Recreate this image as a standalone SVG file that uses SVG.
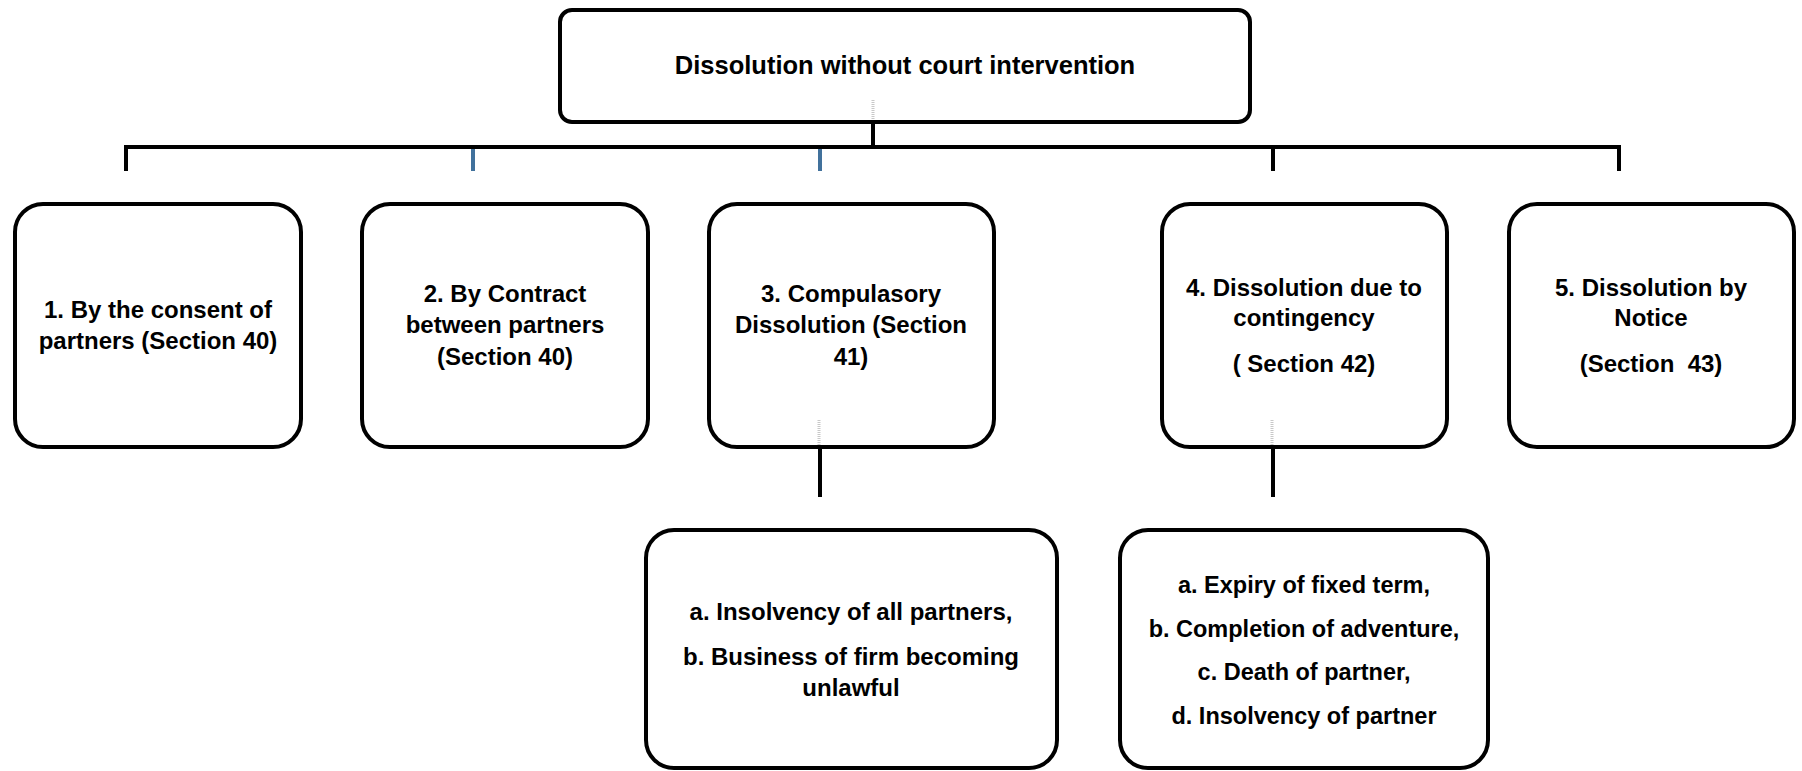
<svg xmlns="http://www.w3.org/2000/svg" width="1802" height="771" viewBox="0 0 1802 771">
<style>
.box{fill:#fff;stroke:#000;stroke-width:4}
.t{font-family:"Liberation Sans",Arial,sans-serif;font-weight:bold;font-size:24px;fill:#000;text-anchor:middle;white-space:pre}
.title{font-size:25.5px}
.sm{font-size:23.5px}
.ln{stroke:#000;stroke-width:4;fill:none}
.blue{stroke:#41719c;stroke-width:4;fill:none}
.dot{stroke:#c8c8c8;stroke-width:3;stroke-dasharray:1 1;fill:none}
</style>
<rect width="1802" height="771" fill="#fff"/>
<g id="connectors">
<line class="ln" x1="873" y1="122" x2="873" y2="147"/>
<line class="ln" x1="124" y1="147" x2="1621" y2="147"/>
<line class="ln" x1="126" y1="147" x2="126" y2="171"/>
<line class="blue" x1="473" y1="149" x2="473" y2="171"/>
<line class="blue" x1="820" y1="149" x2="820" y2="171"/>
<line class="ln" x1="1273" y1="147" x2="1273" y2="171"/>
<line class="ln" x1="1619" y1="147" x2="1619" y2="171"/>
<line class="ln" x1="820" y1="447" x2="820" y2="497"/>
<line class="ln" x1="1273" y1="447" x2="1273" y2="497"/>
</g>
<g id="top">
<rect class="box" x="560" y="10" width="690" height="112" rx="12"/>
<text class="t title" x="905" y="74">Dissolution without court intervention</text>
<line class="dot" x1="873" y1="100" x2="873" y2="120"/>
</g>
<g id="n1">
<rect class="box" x="15" y="204" width="286" height="243" rx="28"/>
<text class="t" x="158" y="318">1. By the consent of</text>
<text class="t" x="158" y="349">partners (Section 40)</text>
</g>
<g id="n2">
<rect class="box" x="362" y="204" width="286" height="243" rx="28"/>
<text class="t" x="505" y="302">2. By Contract</text>
<text class="t" x="505" y="333">between partners</text>
<text class="t" x="505" y="365">(Section 40)</text>
</g>
<g id="n3">
<rect class="box" x="709" y="204" width="285" height="243" rx="28"/>
<text class="t" x="851" y="302">3. Compulasory</text>
<text class="t" x="851" y="333">Dissolution (Section</text>
<text class="t" x="851" y="365">41)</text>
<line class="dot" x1="819" y1="420" x2="819" y2="445"/>
</g>
<g id="n4">
<rect class="box" x="1162" y="204" width="285" height="243" rx="28"/>
<text class="t" x="1304" y="296">4. Dissolution due to</text>
<text class="t" x="1304" y="326">contingency</text>
<text class="t" x="1304" y="372">( Section 42)</text>
<line class="dot" x1="1272" y1="420" x2="1272" y2="445"/>
</g>
<g id="n5">
<rect class="box" x="1509" y="204" width="285" height="243" rx="28"/>
<text class="t" x="1651" y="296">5. Dissolution by</text>
<text class="t" x="1651" y="326">Notice</text>
<text class="t" x="1651" y="372">(Section  43)</text>
</g>
<g id="n3a">
<rect class="box" x="646" y="530" width="411" height="238" rx="28"/>
<text class="t" x="851" y="620">a. Insolvency of all partners,</text>
<text class="t" x="851" y="665">b. Business of firm becoming</text>
<text class="t" x="851" y="696">unlawful</text>
</g>
<g id="n4a">
<rect class="box" x="1120" y="530" width="368" height="238" rx="28"/>
<text class="t sm" x="1304" y="593">a. Expiry of fixed term,</text>
<text class="t sm" x="1304" y="637">b. Completion of adventure,</text>
<text class="t sm" x="1304" y="680">c. Death of partner,</text>
<text class="t sm" x="1304" y="724">d. Insolvency of partner</text>
</g>
</svg>
